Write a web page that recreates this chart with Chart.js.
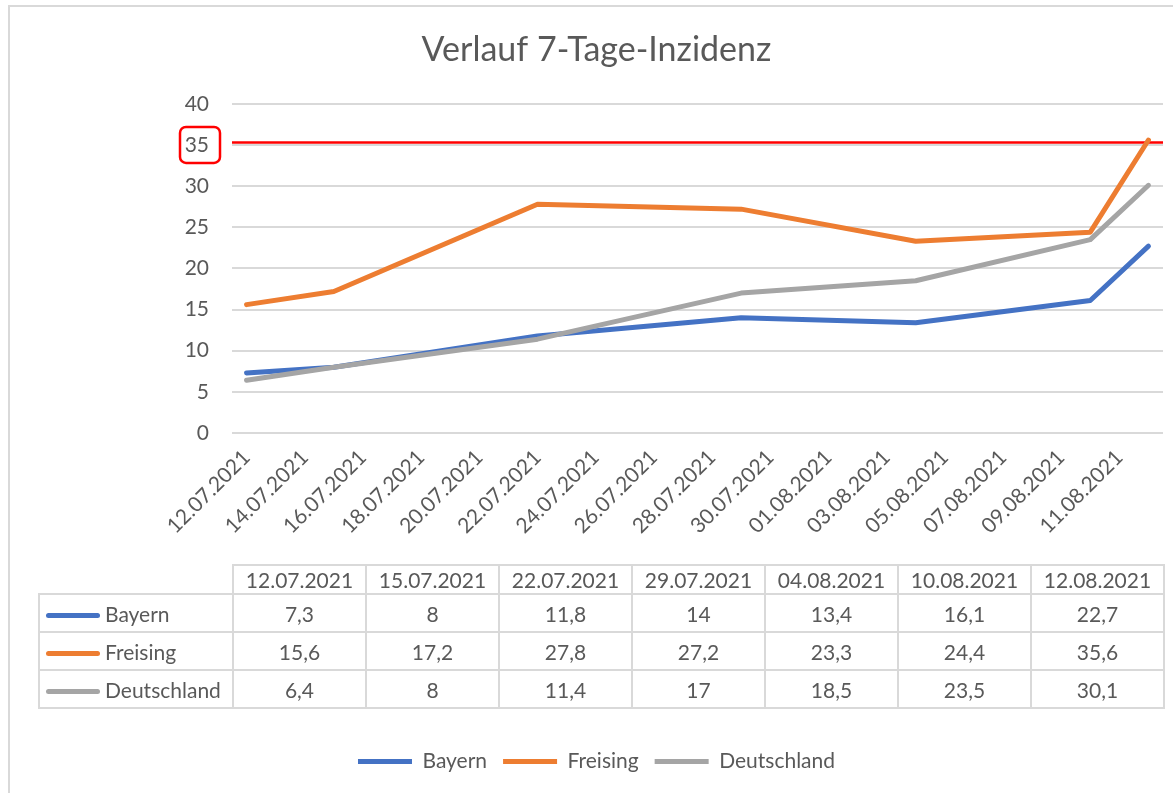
<!DOCTYPE html>
<html><head><meta charset="utf-8">
<script src="https://cdn.jsdelivr.net/npm/chart.js@4.4.0/dist/chart.umd.min.js"></script>
<style>
html,body{margin:0;padding:0;background:#fff;overflow:hidden;}
#wrap{position:relative;width:1173px;height:793px;overflow:hidden;}
#frame{position:absolute;left:8px;top:5px;width:1200px;height:820px;border:2px solid #d9d9d9;box-sizing:border-box;}
#c{position:absolute;left:0;top:0;}
#tbl{position:absolute;left:38px;top:564px;border-collapse:collapse;font-family:Lato,sans-serif;font-size:21px;color:#595959;table-layout:fixed;}
#tbl td{border:2px solid #d9d9d9;text-align:center;padding:0;white-space:nowrap;}
#tbl tr.h td{height:27px;}
#tbl tr.d td{height:36px;}
#tbl td.blank{border:none;}
#tbl td.name{text-align:left;padding-left:6px;}
.key{display:inline-block;width:54px;height:5px;border-radius:3px;vertical-align:middle;margin-right:5px;position:relative;top:-1px;}
</style>
</head><body>
<div id="wrap">
<div id="frame"></div>
<canvas id="c" width="1173" height="793"></canvas>
<table id="tbl"></table>
</div>
<script>
const chartTitle = 'Verlauf 7-Tage-Inzidenz';
const seriesNames = ['Bayern', 'Freising', 'Deutschland'];
const dates = ['12.07.2021', '15.07.2021', '22.07.2021', '29.07.2021', '04.08.2021', '10.08.2021', '12.08.2021'];
const bayern = [7.3, 8, 11.8, 14, 13.4, 16.1, 22.7];
const freising = [15.6, 17.2, 27.8, 27.2, 23.3, 24.4, 35.6];
const deutschland = [6.4, 8, 11.4, 17, 18.5, 23.5, 30.1];
const tickLabels = ['12.07.2021', '14.07.2021', '16.07.2021', '18.07.2021', '20.07.2021', '22.07.2021', '24.07.2021', '26.07.2021', '28.07.2021', '30.07.2021', '01.08.2021', '03.08.2021', '05.08.2021', '07.08.2021', '09.08.2021', '11.08.2021'];
const axisStart = '12.07.2021';
const axisEnd = '12.08.2021';
const thresholdLine = 35.3;
const markedTick = 35;
const seriesColors = ['#4472C4', '#ED7D31', '#A5A5A5'];

const seriesValues = [bayern, freising, deutschland];

function dayIndex(s) {
  const [d, m, y] = s.split('.').map(Number);
  const [d0, m0, y0] = axisStart.split('.').map(Number);
  return Math.round((Date.UTC(y, m - 1, d) - Date.UTC(y0, m0 - 1, d0)) / 86400000);
}
const xMin = 0;
const xMax = dayIndex(axisEnd) + 1;
const fmt = v => String(v).replace('.', ',');

const FONT = 'Lato';
const TXT = '#595959';

// table
const tbl = document.getElementById('tbl');
let html = '<colgroup><col style="width:194px">' + dates.map(() => '<col style="width:133px">').join('') + '</colgroup>';
html += '<tr class="h"><td class="blank"></td>' + dates.map(d => '<td>' + d + '</td>').join('') + '</tr>';
seriesNames.forEach((n, i) => {
  html += '<tr class="d"><td class="name"><span class="key" style="background:' + seriesColors[i] + '"></span>' + n + '</td>' +
    seriesValues[i].map(v => '<td>' + fmt(v) + '</td>').join('') + '</tr>';
});
tbl.innerHTML = html;

const datasets = seriesNames.map((n, i) => ({
  label: n,
  data: dates.map((d, j) => ({ x: dayIndex(d) + 0.5, y: seriesValues[i][j] })),
  borderColor: seriesColors[i],
  backgroundColor: seriesColors[i],
  borderWidth: 5,
  pointRadius: 0,
  borderCapStyle: 'round',
  borderJoinStyle: 'round',
  tension: 0,
  order: 3 - i
}));
datasets.push({
  label: 'Grenzwert',
  data: [{ x: xMin, y: thresholdLine }, { x: xMax, y: thresholdLine }],
  borderColor: '#FF0000',
  borderWidth: 2.5,
  pointRadius: 0,
  order: 10
});

const markPlugin = {
  id: 'mark',
  afterDraw(chart) {
    const { ctx, chartArea, scales } = chart;
    const cy = scales.y.getPixelForValue(markedTick);
    ctx.save();
    ctx.strokeStyle = '#FF0000';
    ctx.lineWidth = 2.5;
    ctx.beginPath();
    ctx.roundRect(chartArea.left - 52, cy - 18, 40, 36, 6);
    ctx.stroke();
    ctx.restore();
  }
};

new Chart(document.getElementById('c'), {
  type: 'line',
  data: { datasets },
  plugins: [markPlugin],
  options: {
    responsive: false,
    animation: false,
    layout: { padding: { left: 30, right: 10, top: 0, bottom: 11 } },
    plugins: {
      tooltip: { enabled: false },
      title: {
        display: true, text: chartTitle, color: TXT,
        font: { family: FONT, size: 34, weight: 'normal' },
        padding: { top: 30, bottom: 33 }
      },
      legend: {
        position: 'bottom',
        labels: {
          font: { family: FONT, size: 21 }, color: TXT,
          usePointStyle: true, pointStyle: 'line', pointStyleWidth: 54,
          padding: 16,
          filter: item => item.datasetIndex < seriesNames.length,
          sort: (a, b) => a.datasetIndex - b.datasetIndex
        }
      }
    },
    scales: {
      x: {
        type: 'linear', min: xMin, max: xMax,
        afterBuildTicks: s => { s.ticks = tickLabels.map(t => ({ value: dayIndex(t) + 0.5 })); },
        ticks: {
          autoSkip: false, maxRotation: 45, minRotation: 45,
          font: { family: FONT, size: 21 }, color: TXT, padding: 12,
          callback: (v, i) => tickLabels[i]
        },
        grid: { display: false, drawTicks: false },
        border: { display: false },
        afterFit: s => { s.height = 302; }
      },
      y: {
        min: 0, max: 40,
        ticks: { stepSize: 5, font: { family: FONT, size: 21 }, color: TXT, padding: 23 },
        grid: { color: '#d9d9d9', lineWidth: 2, drawTicks: false },
        border: { display: false },
        afterFit: s => { s.width = 202; }
      }
    }
  }
});
</script>
</body></html>
